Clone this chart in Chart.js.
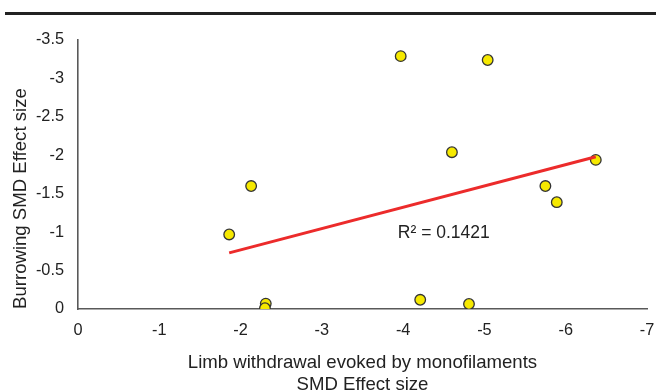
<!DOCTYPE html>
<html>
<head>
<meta charset="utf-8">
<script src="https://cdn.jsdelivr.net/npm/chart.js@4.4.1/dist/chart.umd.min.js"></script>
<style>
  body { margin: 0; background: #fff; }
  #wrap { position: relative; width: 656px; height: 390px; }
  #topRule { position: absolute; left: 5px; right: 0; top: 12px; height: 3px; background: #222; }
  #grafico { position: absolute; left: 0; top: 0; }
</style>
</head>
<body>
<div id="wrap">
  <div id="topRule"></div>
  <canvas id="grafico" width="656" height="390"></canvas>
</div>
<script>
// valori (SMD effect size)
const limbWithdrawal = [-2.13, -1.86, -2.31, -2.30, -3.97, -5.04, -4.60, -6.37, -5.75, -5.89, -4.21, -4.81];
const burrowing      = [-1.60, -0.97, -0.07, -0.01, -3.29, -3.24, -2.04, -1.94, -1.60, -1.39, -0.12, -0.065];

// linea di tendenza (estremi)
const trendX = [-1.86, -6.37];
const trendY = [-0.73, -1.98];
const rSquaredText = 'R\u00b2 = 0.1421';

// assi
const xTicks = [0, -1, -2, -3, -4, -5, -6, -7];
const yTicks = [0, -0.5, -1, -1.5, -2, -2.5, -3, -3.5];

const xTitle = ['Limb withdrawal evoked by monofilaments', 'SMD Effect size'];
const yTitle = 'Burrowing SMD Effect size';

document.addEventListener('DOMContentLoaded', function() {
  const fontFamily = '"Liberation Sans", Arial, sans-serif';

  // etichetta R² e titolo asse Y (parte dal fondo, come in Excel)
  const labelsPlugin = {
    id: 'extraLabels',
    afterDatasetsDraw(chart) {
      const ctx = chart.ctx;
      const xs = chart.scales.x, ys = chart.scales.y;
      ctx.save();
      ctx.font = '17.5px ' + fontFamily;
      ctx.fillStyle = '#222';
      ctx.textAlign = 'center';
      ctx.textBaseline = 'middle';
      ctx.fillText(rSquaredText, xs.getPixelForValue(-4.5), ys.getPixelForValue(-0.99));

      ctx.font = '18.6px ' + fontFamily;
      ctx.textAlign = 'left';
      ctx.translate(21, ys.bottom);
      ctx.rotate(-Math.PI / 2);
      ctx.fillText(yTitle, 0, 0);
      ctx.restore();
    }
  };

  const ctx = document.getElementById('grafico').getContext('2d');
  new Chart(ctx, {
    type: 'scatter',
    data: {
      datasets: [{
        label: 'Trend',
        type: 'line',
        data: trendX.map((x, i) => ({ x: x, y: trendY[i] })),
        borderColor: '#ec2b2b',
        borderWidth: 3,
        pointRadius: 0,
        fill: false,
        order: 0
      }, {
        label: 'Studi',
        data: limbWithdrawal.map((x, i) => ({ x: x, y: burrowing[i] })),
        backgroundColor: '#f6e900',
        borderColor: '#333',
        borderWidth: 1.3,
        pointRadius: 5.3,
        order: 1
      }]
    },
    options: {
      responsive: false,
      animation: false,
      layout: { padding: { top: 40, right: 0, left: 0, bottom: 0 } },
      plugins: {
        legend: { display: false },
        tooltip: { enabled: false }
      },
      scales: {
        x: {
          type: 'linear',
          reverse: true,
          min: -7,
          max: 0,
          afterBuildTicks: function(scale) {
            scale.ticks = xTicks.map(v => ({ value: v }));
          },
          afterFit: function(scale) {
            scale.height = 81;
            scale.paddingLeft = 0;
            scale.paddingRight = 9;
          },
          grid: { display: false, drawTicks: false },
          border: { display: true, color: '#595959', width: 1.6 },
          ticks: {
            color: '#222',
            padding: 12,
            font: { family: fontFamily, size: 16.3 },
            maxRotation: 0,
            callback: function(value) { return String(value); }
          },
          title: {
            display: true,
            text: xTitle,
            color: '#222',
            font: { family: fontFamily, size: 18.6, weight: 'normal', lineHeight: 1.18 },
            padding: { top: 0, bottom: -6 }
          }
        },
        y: {
          type: 'linear',
          reverse: true,
          min: -3.5,
          max: 0,
          afterBuildTicks: function(scale) {
            scale.ticks = yTicks.map(v => ({ value: v }));
          },
          afterFit: function(scale) { scale.width = 78; },
          grid: { display: false, drawTicks: false },
          border: { display: true, color: '#595959', width: 1.6 },
          ticks: {
            color: '#222',
            padding: 14,
            font: { family: fontFamily, size: 16.3 },
            callback: function(value) { return String(value); }
          }
        }
      }
    },
    plugins: [labelsPlugin]
  });
});
</script>
</body>
</html>
